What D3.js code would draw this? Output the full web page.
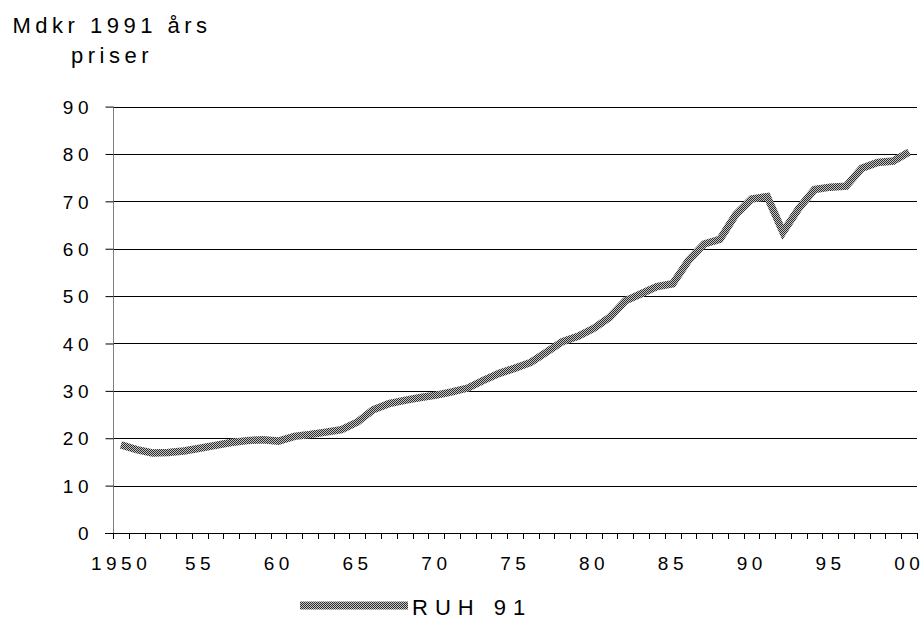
<!DOCTYPE html>
<html>
<head>
<meta charset="utf-8">
<script src="https://cdn.jsdelivr.net/npm/d3@7/dist/d3.min.js"></script>
<style>
  html, body { margin: 0; padding: 0; background: #fff; }
  svg { display: block; font-family: "Liberation Sans", Arial, sans-serif; }
</style>
</head>
<body>
<svg id="chart" width="923" height="619"></svg>
<script>
// Real GDP (RUH 91), billions SEK at 1991 prices, 1950–2000
const years = d3.range(1950, 2001);
const values = [
  18.6, 17.6, 16.9, 17.0, 17.3, 17.9, 18.5, 19.1, 19.5, 19.7,
  19.4, 20.4, 20.8, 21.3, 21.8, 23.4, 26.0, 27.3, 28.0, 28.6,
  29.1, 29.8, 30.6, 32.2, 33.7, 34.8, 36.0, 38.2, 40.4, 41.5,
  43.2, 45.5, 49.0, 50.5, 52.0, 52.6, 57.5, 61.0, 62.0, 67.2,
  70.5, 71.0, 63.5, 68.5, 72.5, 73.0, 73.2, 77.0, 78.2, 78.5,
  80.4
];
const yTicks = [0, 10, 20, 30, 40, 50, 60, 70, 80, 90];
const xTickYears = [1950, 1955, 1960, 1965, 1970, 1975, 1980, 1985, 1990, 1995, 2000];
const xTickLabels = ["1950", "55", "60", "65", "70", "75", "80", "85", "90", "95", "00"];
const seriesName = "RUH 91";
const titleLines = ["Mdkr 1991 års", "priser"];

const svg = d3.select("#chart");
const plotLeft = 113, plotRight = 917, plotTop = 106.6, plotBottom = 533;
const tickFont = 19, tickSpacing = 4.5;

const x = d3.scaleBand().domain(years).range([plotLeft, plotRight]).padding(0);
const xc = yr => x(yr) + x.bandwidth() / 2;
const y = d3.scaleLinear().domain([0, 90]).range([plotBottom, plotTop]);

// hatched fill used for the series stroke
const defs = svg.append("defs");
const pat = defs.append("pattern")
  .attr("id", "hatch").attr("patternUnits", "userSpaceOnUse")
  .attr("width", 2).attr("height", 2);
pat.append("rect").attr("width", 2).attr("height", 2).attr("fill", "#c4c4c4");
pat.append("rect").attr("x", 0).attr("y", 0).attr("width", 1).attr("height", 1).attr("fill", "#2e2e2e");
pat.append("rect").attr("x", 1).attr("y", 1).attr("width", 1).attr("height", 1).attr("fill", "#2e2e2e");

// horizontal gridlines
svg.append("g").selectAll("line").data(yTicks.filter(d => d > 0)).join("line")
  .attr("x1", plotLeft).attr("x2", plotRight)
  .attr("y1", d => Math.round(y(d)) + 0.5).attr("y2", d => Math.round(y(d)) + 0.5)
  .attr("stroke", "#000").attr("stroke-width", 1);

// y axis
const yAxis = svg.append("g").attr("transform", `translate(${plotLeft + 0.5},0)`)
  .call(d3.axisLeft(y).tickValues(yTicks).tickSize(8).tickFormat(d3.format("d")));
yAxis.select(".domain").attr("stroke", "#808080").attr("d", `M0,${plotTop}V${plotBottom}`);
yAxis.selectAll(".tick line").attr("stroke", "#000");
yAxis.selectAll(".tick text")
  .attr("x", -25 + tickSpacing).attr("dy", "0.35em")
  .style("font-size", tickFont + "px").style("letter-spacing", tickSpacing + "px")
  .attr("fill", "#000").attr("font-family", null);

// x axis: baseline, category boundary ticks, labels
const xAxis = svg.append("g");
xAxis.append("line")
  .attr("x1", plotLeft - 8).attr("x2", plotRight)
  .attr("y1", plotBottom + 0.5).attr("y2", plotBottom + 0.5)
  .attr("stroke", "#000");
const bounds = years.map(yr => x(yr)).concat([plotRight]);
xAxis.selectAll("line.tk").data(bounds).join("line").attr("class", "tk")
  .attr("x1", d => Math.round(d) + 0.5).attr("x2", d => Math.round(d) + 0.5)
  .attr("y1", plotBottom).attr("y2", plotBottom + 6)
  .attr("stroke", "#000");
xAxis.selectAll("text").data(xTickYears).join("text")
  .attr("x", d => xc(d) - 2 + tickSpacing / 2).attr("y", 570)
  .attr("text-anchor", "middle")
  .style("font-size", tickFont + "px").style("letter-spacing", tickSpacing + "px")
  .text((d, i) => xTickLabels[i]);

// series line
const line = d3.line().x((d, i) => xc(years[i])).y(d => y(d));
svg.append("path").datum(values)
  .attr("d", line)
  .attr("fill", "none")
  .attr("stroke", "url(#hatch)")
  .attr("stroke-width", 7.5)
  .attr("stroke-linejoin", "miter");

// axis title
svg.append("g").selectAll("text").data(titleLines).join("text")
  .attr("x", 112).attr("y", (d, i) => 33 + i * 30)
  .attr("text-anchor", "middle")
  .style("font-size", "22px").style("letter-spacing", "4.5px")
  .text(d => d);

// legend
const lg = svg.append("g");
lg.append("line").attr("x1", 300).attr("x2", 408).attr("y1", 605.5).attr("y2", 605.5)
  .attr("stroke", "url(#hatch)").attr("stroke-width", 8);
lg.append("text").attr("x", 412).attr("y", 615)
  .style("font-size", "22px").style("letter-spacing", "7px")
  .text(seriesName);
</script>
</body>
</html>
